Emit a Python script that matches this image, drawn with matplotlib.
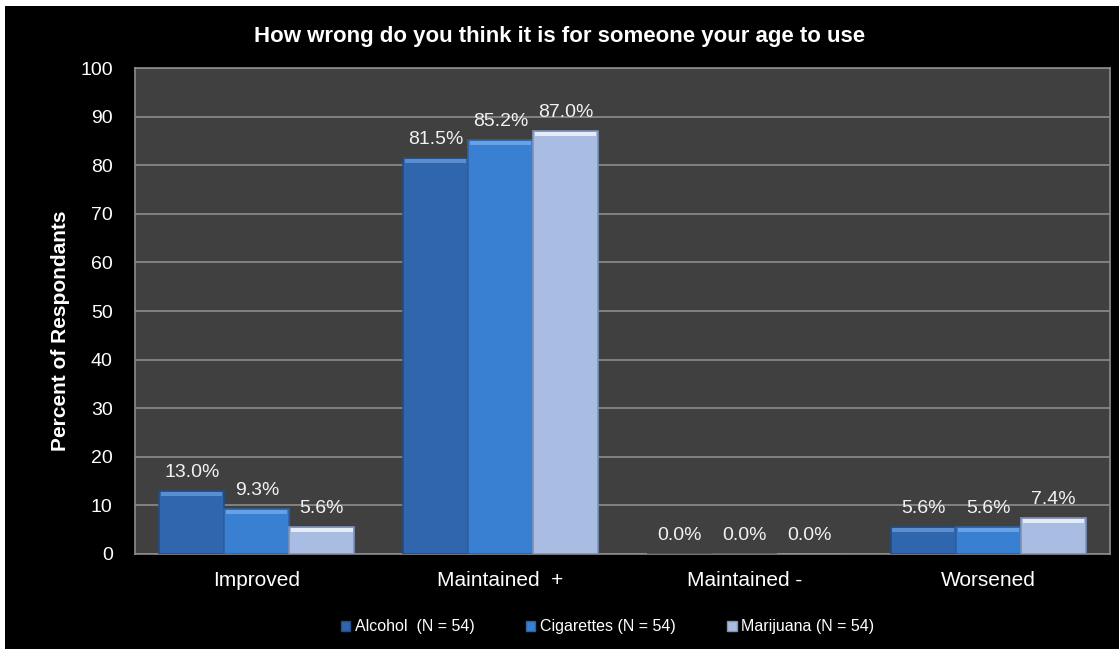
import matplotlib.pyplot as plt
import matplotlib.patches as mpatches
import numpy as np

plt.rcParams['font.family'] = ['Liberation Sans', 'DejaVu Sans']

categories = ['Improved', 'Maintained  +', 'Maintained -', 'Worsened']
series = ['Alcohol  (N = 54)', 'Cigarettes (N = 54)', 'Marijuana (N = 54)']
alcohol = [13.0, 81.5, 0.0, 5.6]
cigarettes = [9.3, 85.2, 0.0, 5.6]
marijuana = [5.6, 87.0, 0.0, 7.4]

colors = ['#3066ad', '#3a80d2', '#a9bde2']
tops = ['#5a8ed0', '#67a2e6', '#e4ecfa']
edges = ['#234d85', '#2c63a6', '#7f93b8']

fig = plt.figure(figsize=(11.19, 6.49), dpi=100, facecolor='white')
fig.patches.append(mpatches.Rectangle((5 / 1119, 0), 1, 1 - 6 / 649,
                                      transform=fig.transFigure,
                                      facecolor='black', zorder=-10))
ax = fig.add_axes([0.1206, 0.1464, 0.8714, 0.7488])
ax.set_facecolor('#404040')

x = np.arange(len(categories))
w = 0.267
data = [alcohol, cigarettes, marijuana]
for i, vals in enumerate(data):
    pos = x + (i - 1) * w
    ax.bar(pos, vals, w, color=colors[i], edgecolor=edges[i], linewidth=1.2,
           zorder=3, label=series[i])
    # bevel highlight on top
    v = np.array(vals)
    hl = np.minimum(v, 0.9)
    ax.bar(pos, hl, w * 0.94, bottom=v - hl - 0.15, color=tops[i],
           linewidth=0, zorder=4)
    for p, val in zip(pos, vals):
        ax.text(p, val + 2.0, f'{val:.1f}%', ha='center', va='bottom',
                color='#f2f2f2', fontsize=14, zorder=5)

ax.set_xlim(-0.5, 3.5)
ax.set_ylim(0, 100)
ax.set_yticks(range(0, 101, 10))
ax.yaxis.grid(True, color='#8c8c8c', linewidth=1.2, zorder=0)
ax.set_axisbelow(True)
ax.set_xticks(x)
ax.set_xticklabels(categories, fontsize=15)
ax.tick_params(axis='both', colors='white', length=0)
ax.tick_params(axis='y', labelsize=14, pad=16)
ax.tick_params(axis='x', pad=12)
for s in ax.spines.values():
    s.set_color('#8c8c8c')
    s.set_linewidth(1.2)

ax.set_ylabel('Percent of Respondants', color='white', fontsize=15,
              fontweight='bold')
ax.yaxis.set_label_coords(-0.067, 0.46)
fig.text(0.5, 0.943, 'How wrong do you think it is for someone your age to use',
         ha='center', va='center', color='white', fontsize=16, fontweight='bold')

handles = [mpatches.Patch(facecolor=colors[i], edgecolor=edges[i]) for i in range(3)]
fig.legend(handles, series, loc='center', bbox_to_anchor=(0.543, 0.034), ncol=3,
           frameon=False, fontsize=11.5, labelcolor='white', handlelength=0.6,
           handleheight=0.6, handletextpad=0.3, columnspacing=3.2)

fig.savefig('out.png', dpi=100, facecolor=fig.get_facecolor())
